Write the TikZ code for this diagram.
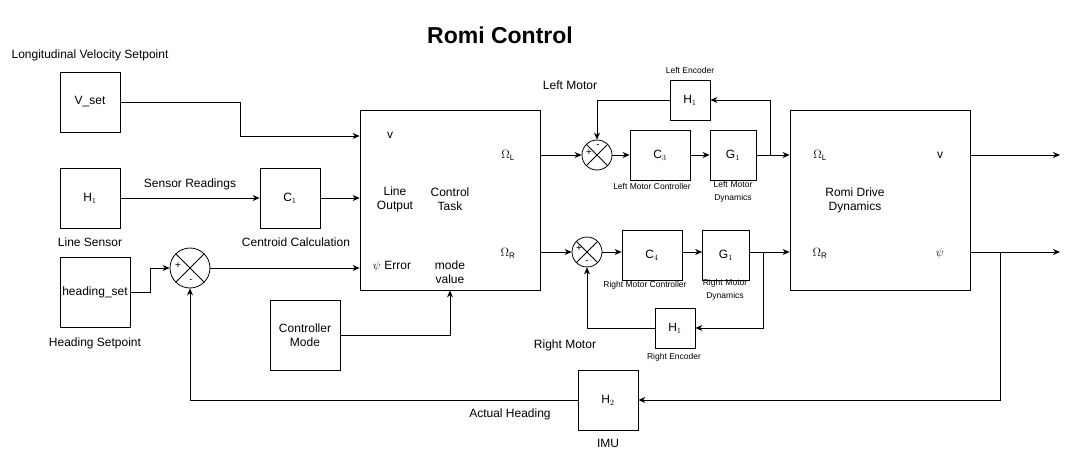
\documentclass[tikz,border=0pt]{standalone}
\usepackage{fontspec}
\setmainfont{Liberation Sans}
\usetikzlibrary{positioning,arrows.meta}
\tikzstyle{block} = [rectangle, draw=black, text centered, align=center, inner sep=1pt]
\tikzstyle{sum} = [circle, draw=black, minimum size=30pt, inner sep=0pt, path picture={\draw (path picture bounding box.north west) -- (path picture bounding box.south east) (path picture bounding box.north east) -- (path picture bounding box.south west);}]
\tikzstyle{lbl} = [font=\fontsize{12}{14}\selectfont, align=center]
\tikzstyle{tiny} = [font=\fontsize{8.5}{11}\selectfont, align=center]
\tikzstyle{sign} = [font=\fontsize{10}{10}\selectfont, inner sep=0pt]
\tikzstyle{arrow} = [-{Stealth[length=7pt,width=6pt]}]

\begin{document}
\begin{tikzpicture}[x=1pt, y=-1pt, font=\fontsize{12}{14}\selectfont, line width=0.8pt]
    \useasboundingbox (0,0) rectangle (1069,460);
    \node (title) at (500,35) {\fontsize{23}{26}\selectfont\bfseries Romi Control};

    \node (v_set) [block, minimum width=60pt, minimum height=60pt] at (90,102) {V\_set};
    \node (line_sensor) [block, minimum width=60pt, minimum height=60pt] at (90,198) {H$_1$};
    \node (heading_set) [block, minimum width=70pt, minimum height=70pt] at (95,292) {heading\_set};
    \node (centroid) [block, minimum width=60pt, minimum height=60pt] at (290,198) {C$_1$};
    \node (control_task) [block, minimum width=180pt, minimum height=180pt] at (450,200) {};
    \node (heading_sum) [sum, minimum size=40pt] at (190,268) {};
    \node (ctrl_mode) [block, minimum width=70pt, minimum height=70pt] at (305,335) {Controller\\Mode};

    \node (left_sum) [sum] at (597,155) {};
    \node (c_left) [block, minimum width=60pt, minimum height=50pt] at (660,155) {C$_3$};
    \node (g_left) [block, minimum width=46pt, minimum height=50pt] at (733,155) {G$_1$};
    \node (enc_left) [block, minimum width=40pt, minimum height=40pt] at (690,100) {H$_1$};

    \node (right_sum) [sum] at (587,252) {};
    \node (c_right) [block, minimum width=60pt, minimum height=50pt] at (652,255) {C$_4$};
    \node (g_right) [block, minimum width=47pt, minimum height=50pt] at (726,255) {G$_1$};
    \node (enc_right) [block, minimum width=40pt, minimum height=40pt] at (675,328) {H$_1$};

    \node (romi) [block, minimum width=180pt, minimum height=180pt] at (880,200) {};
    \node (imu) [block, minimum width=60pt, minimum height=60pt] at (608,400) {H$_2$};

    % labels
    \node [lbl] at (90,55) {Longitudinal Velocity Setpoint};
    \node [lbl] at (90,242) {Line Sensor};
    \node [lbl] at (95,343) {Heading Setpoint};
    \node [lbl] at (190,184) {Sensor Readings};
    \node [lbl] at (296,242) {Centroid Calculation};
    \node [lbl] at (390,135) {v};
    \node [lbl] at (395,199) {Line\\Output};
    \node [lbl] at (450,199) {Control\\Task};
    \node [lbl] at (392,266) {$\psi$ Error};
    \node [lbl] at (450,272) {mode\\value};
    \node [lbl] at (508,155) {$\Omega_\mathrm{L}$};
    \node [lbl] at (508,253) {$\Omega_\mathrm{R}$};
    \node [lbl] at (570,85) {Left Motor};
    \node [lbl] at (565,345) {Right Motor};
    \node [tiny] at (690,70) {Left Encoder};
    \node [tiny] at (674,357) {Right Encoder};
    \node [tiny] at (652,186) {Left Motor Controller};
    \node [tiny, text width=55pt] at (733,192) {Left Motor\\[2pt]Dynamics};
    \node [tiny] at (645,285) {Right Motor Controller};
    \node [tiny, text width=55pt] at (725,290) {Right Motor\\[2pt]Dynamics};
    \node [lbl] at (820,155) {$\Omega_\mathrm{L}$};
    \node [lbl] at (940,155) {v};
    \node [lbl] at (855,200) {Romi Drive\\Dynamics};
    \node [lbl] at (820,253) {$\Omega_\mathrm{R}$};
    \node [lbl] at (940,253) {$\psi$};
    \node [lbl] at (510,414) {Actual Heading};
    \node [lbl] at (608,443) {IMU};

    % signs
    \node [sign] at (178,266) {+};
    \node [sign] at (191,281) {-};
    \node [sign] at (589,153) {+};
    \node [sign] at (598,146) {-};
    \node [sign] at (579,249) {+};
    \node [sign] at (587,262) {-};

    % connectors
    \draw [arrow] (v_set.east) -- (240,102) -- (240,136) -- (control_task.west |- 0,136);
    \draw [arrow] (line_sensor) -- (centroid);
    \draw [arrow] (centroid) -- (control_task.west |- centroid);
    \draw [arrow] (heading_set.east) -- (150,292) -- (150,268) -- (heading_sum.west);
    \draw [arrow] (heading_sum.east) -- (control_task.west |- heading_sum);
    \draw [arrow] (ctrl_mode.east) -| (control_task.south);

    \draw [arrow] (control_task.east |- left_sum) -- (left_sum.west);
    \draw [arrow] (left_sum) -- (c_left);
    \draw [arrow] (c_left) -- (g_left);
    \draw [arrow] (g_left.east) -- (romi.west |- g_left);
    \draw [arrow] (770,155) -- (770,100) -- (enc_left.east);
    \draw [arrow] (enc_left.west) -| (left_sum.north);

    \draw [arrow] (control_task.east |- right_sum) -- (right_sum.west);
    \draw [arrow] (right_sum) -- (c_right.west |- right_sum);
    \draw [arrow] (c_right.east |- right_sum) -- (g_right.west |- right_sum);
    \draw [arrow] (g_right.east |- right_sum) -- (romi.west |- right_sum);
    \draw [arrow] (763,252) -- (763,328) -- (enc_right.east);
    \draw [arrow] (enc_right.west) -| (right_sum.south);

    \draw [arrow] (romi.east |- left_sum) -- (1060,155);
    \draw [arrow] (romi.east |- right_sum) -- (1060,252);
    \draw [arrow] (1000,252) -- (1000,400) -- (imu.east);
    \draw [arrow] (imu.west) -| (heading_sum.south);
\end{tikzpicture}
\end{document}
